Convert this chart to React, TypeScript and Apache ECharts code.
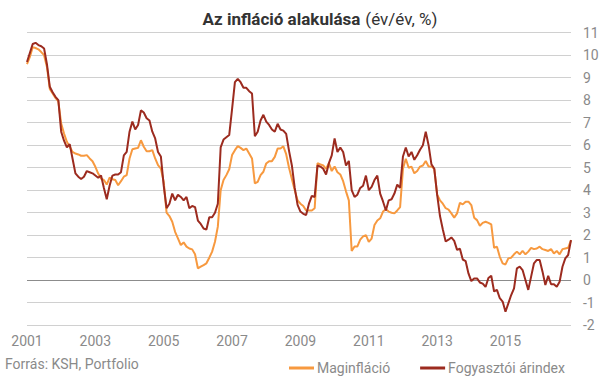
import React, { useEffect, useRef } from "react";
import * as echarts from "echarts";

const years = [2001, 2002, 2003, 2004, 2005, 2006, 2007, 2008, 2009, 2010, 2011, 2012, 2013, 2014, 2015, 2016];
const months = ["01", "02", "03", "04", "05", "06", "07", "08", "09", "10", "11", "12"];
const categories: string[] = years.flatMap((y) => months.map((m) => `${y}.${m}`));

const yTicks = [-2, 11];

const seriesNames = ["Maginfláció", "Fogyasztói árindex"];

const maginflacio = [
  9.6, 9.92, 10.36, 10.32, 10.26, 10.14, 10.0, 9.48, 8.5, 8.3, 8.1, 7.95,
  6.96, 6.52, 6.15, 5.93, 5.7, 5.63, 5.59, 5.53, 5.53, 5.56, 5.41, 5.29,
  5.04, 4.74, 4.52, 4.45, 4.25, 4.56, 4.49, 4.45, 4.22, 4.4, 4.6, 4.67,
  5.41, 5.82, 5.85, 5.88, 6.22, 5.93, 5.73, 5.73, 5.78, 5.41, 5.11, 4.96,
  4.37, 3.0, 2.85, 2.6, 2.15, 1.86, 1.56, 1.68, 1.49, 1.41, 1.37, 1.15,
  0.53, 0.6, 0.67, 0.75, 1.0, 1.27, 1.71, 2.38, 4.0, 4.45, 4.67, 4.93,
  5.56, 5.78, 5.96, 5.88, 5.78, 5.85, 5.63, 5.41, 4.3, 4.37, 4.67, 4.82,
  5.19, 5.29, 5.29, 5.48, 5.85, 5.85, 5.95, 5.6, 5.0, 4.5, 4.0, 3.55,
  3.4, 3.3, 3.1, 3.1, 3.1, 3.2, 5.2, 5.15, 5.1, 4.95, 5.2, 4.85,
  5.05, 4.8, 4.7, 4.4, 3.95, 3.55, 1.3, 1.5, 1.5, 1.8, 1.95, 2.0,
  1.7, 1.85, 2.45, 2.65, 2.75, 3.05, 3.15, 3.05, 3.0, 2.97, 3.1, 3.25,
  4.95, 5.4, 5.0, 5.05, 4.75, 4.85, 5.05, 5.1, 5.3, 5.05, 5.05, 4.95,
  3.8, 3.55, 3.4, 3.2, 3.14, 2.97, 2.78, 2.97, 3.44, 3.37, 3.49, 3.49,
  3.34, 2.78, 2.67, 2.42, 2.55, 2.6, 2.55, 2.48, 1.44, 1.49, 1.04, 0.75,
  0.7, 0.97, 1.0, 1.15, 1.27, 1.15, 1.3, 1.15, 1.27, 1.44, 1.38, 1.41,
  1.49, 1.38, 1.34, 1.3, 1.38, 1.19, 1.3, 1.15, 1.38, 1.41, 1.44, 1.78,
];

const fogyasztoiArindex = [
  9.7, 10.1, 10.5, 10.55, 10.45, 10.4, 10.3, 9.6, 8.6, 8.35, 8.15, 8.0,
  6.6, 6.2, 5.9, 6.05, 5.4, 4.75, 4.6, 4.5, 4.6, 4.85, 4.8, 4.75,
  4.65, 4.55, 4.65, 4.1, 3.6, 4.2, 4.65, 4.7, 4.7, 4.8, 5.55, 5.7,
  6.6, 7.05, 6.7, 6.9, 7.55, 7.45, 7.2, 7.1, 6.6, 6.3, 5.7, 5.5,
  4.2, 3.2, 3.4, 3.85, 3.55, 3.8, 3.7, 3.55, 3.7, 3.2, 3.3, 3.25,
  2.65, 2.5, 2.3, 2.25, 2.8, 2.8, 3.0, 3.4, 5.9, 6.25, 6.35, 6.45,
  7.6, 8.8, 8.95, 8.8, 8.55, 8.55, 8.4, 8.3, 6.4, 6.6, 7.1, 7.35,
  7.05, 6.9, 6.7, 6.6, 6.95, 6.7, 6.65, 6.5, 5.75, 5.1, 4.1, 3.35,
  3.05, 2.95, 2.9, 3.4, 3.75, 3.7, 5.1, 5.05, 4.95, 4.7, 5.2, 5.55,
  6.3, 5.7, 5.9, 5.7, 5.1, 5.3, 4.0, 3.7, 3.8, 4.1, 4.2, 4.65,
  4.0, 4.15, 4.45, 4.65, 3.85, 3.5, 3.1, 3.55, 3.6, 3.85, 4.25, 4.1,
  5.5, 5.9, 5.5, 5.7, 5.35, 5.55, 5.8, 6.0, 6.6, 6.0, 5.15, 4.95,
  3.8, 2.85, 2.25, 1.72, 1.8, 1.9, 1.75, 1.35, 1.4, 0.92, 0.85, 0.3,
  -0.04, 0.08, 0.08, -0.1, -0.15, -0.3, 0.1, 0.2, -0.5, -0.43, -0.8, -0.95,
  -1.4, -1.03, -0.66, -0.36, 0.53, 0.6, 0.45, 0.01, -0.43, 0.16, 0.75, 0.9,
  0.9, 0.38, -0.21, 0.2, -0.18, -0.18, -0.29, -0.07, 0.6, 0.97, 1.12, 1.78,
];

const ORANGE = "#f7993f";
const DARKRED = "#9c2b1f";
const FONT = "Roboto";

export default function App() {
  const ref = useRef<HTMLDivElement>(null);
  useEffect(() => {
    if (!ref.current) return;
    const chart = echarts.init(ref.current, undefined, { renderer: "svg" });
    const splitColors: string[] = [];
    for (let v = yTicks[0]; v <= yTicks[1]; v++) splitColors.push(v === 0 ? "#8c8c8c" : "#d0d0d0");
    chart.setOption({
      animation: false,
      backgroundColor: "#ffffff",
      title: {
        text: "{b|Az infláció alakulása} {n|(év/év, %)}",
        left: 315,
        top: 5,
        textAlign: "center",
        textStyle: {
          rich: {
            b: { fontFamily: FONT, fontWeight: "bold", fontSize: 17, color: "#333333" },
            n: { fontFamily: FONT, fontWeight: "normal", fontSize: 17, color: "#333333" },
          },
        },
      },
      grid: { left: 27, right: 34, top: 32.7, bottom: 52.8, containLabel: false },
      legend: {
        data: seriesNames,
        left: 284,
        top: 356,
        icon: "rect",
        itemWidth: 25,
        itemHeight: 3,
        itemGap: 30,
        textStyle: { fontFamily: FONT, fontSize: 14, color: "#8a8a8a", padding: [0, 0, 0, -2] },
      },
      graphic: [
        {
          type: "text",
          left: 5,
          top: 357,
          style: { text: "Forrás: KSH, Portfolio", fontFamily: FONT, fontSize: 14, fill: "#8a8a8a" },
        },
      ],
      xAxis: {
        type: "category",
        data: categories,
        boundaryGap: false,
        axisLine: { show: false },
        axisTick: { show: false },
        splitLine: { show: false },
        axisLabel: {
          interval: (index: number) => index % 24 === 0,
          formatter: (v: string) => v.slice(0, 4),
          fontFamily: FONT,
          fontSize: 14,
          color: "#8a8a8a",
          margin: 9,
        },
      },
      yAxis: {
        type: "value",
        position: "right",
        min: yTicks[0],
        max: yTicks[1],
        interval: 1,
        axisLine: { show: false },
        axisTick: { show: false },
        axisLabel: { fontFamily: FONT, fontSize: 14, color: "#8a8a8a", margin: 12 },
        splitLine: { lineStyle: { color: splitColors, width: 1 } },
      },
      series: [
        {
          name: seriesNames[0],
          type: "line",
          data: maginflacio,
          showSymbol: false,
          symbol: "none",
          lineStyle: { color: ORANGE, width: 2 },
          itemStyle: { color: ORANGE },
          z: 2,
        },
        {
          name: seriesNames[1],
          type: "line",
          data: fogyasztoiArindex,
          showSymbol: false,
          symbol: "none",
          lineStyle: { color: DARKRED, width: 2 },
          itemStyle: { color: DARKRED },
          z: 3,
        },
      ],
    });
    return () => chart.dispose();
  }, []);
  return <div ref={ref} style={{ width: 605, height: 378, position: "absolute", left: 0, top: 0 }} />;
}
